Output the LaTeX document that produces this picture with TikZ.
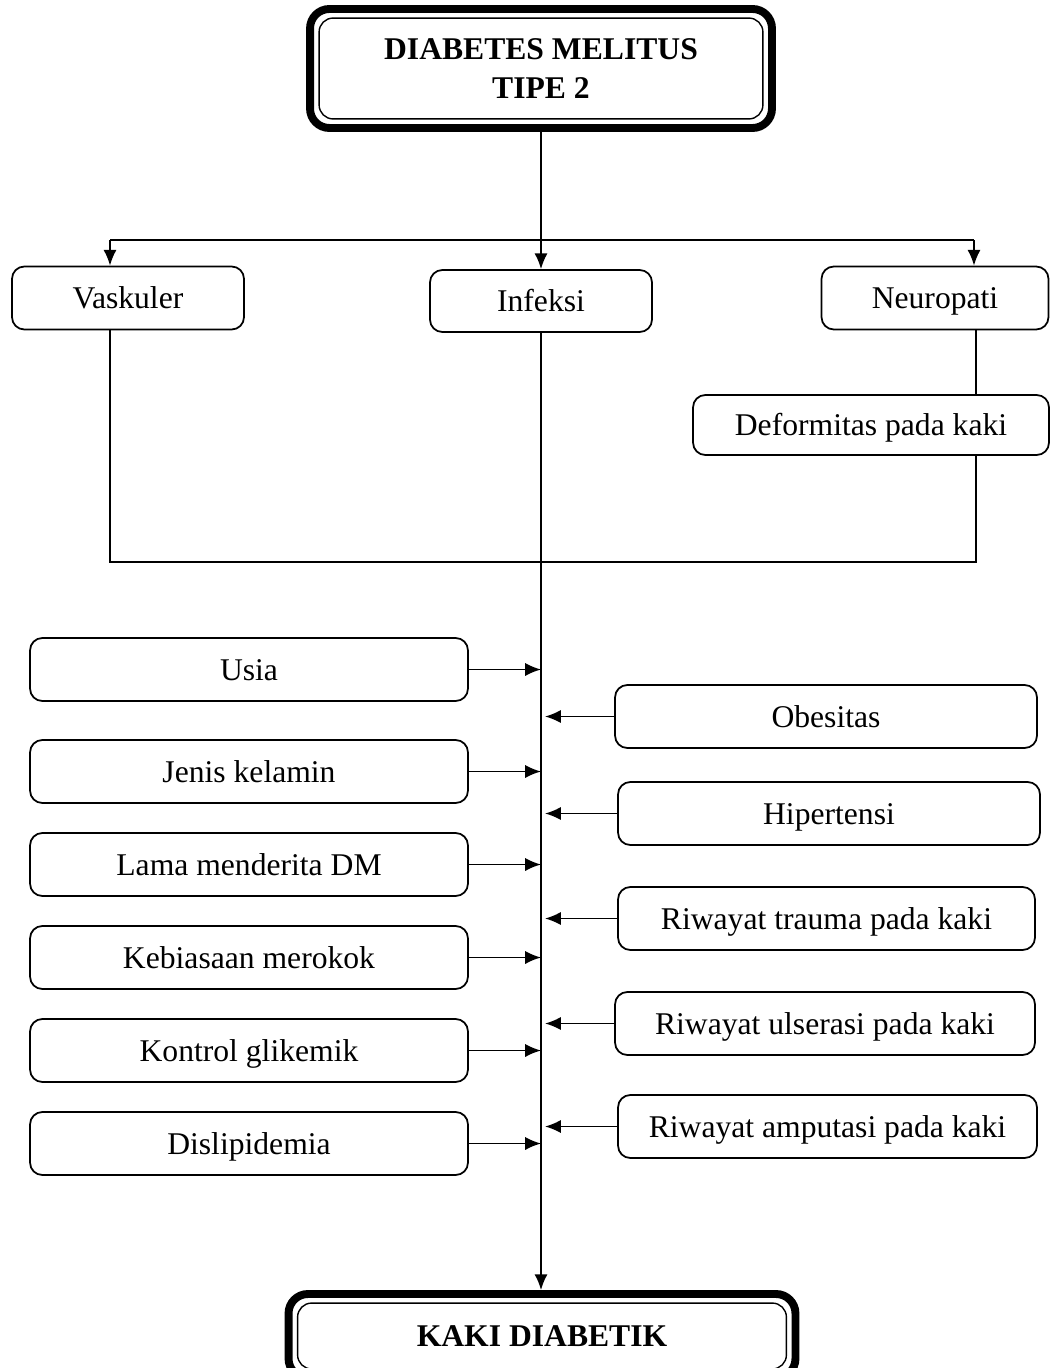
\documentclass[tikz,border=0pt]{standalone}
\usepackage{fontspec}
\setmainfont{Liberation Serif}
\usetikzlibrary{arrows.meta}

\begin{document}
\begin{tikzpicture}[x=0.02cm, y=-0.02cm, >={Latex[length=9pt,width=7.5pt]},
		font=\fontsize{18}{22}\selectfont,
		box/.style={draw, line width=1pt, rounded corners=7pt, minimum height=1.26cm, inner sep=0pt,
			text height=13pt, text depth=1pt},
		mainbox/.style={draw, line width=4.5pt, rounded corners=11pt, align=center, inner sep=0pt,
			font=\fontsize{18}{22}\selectfont\bfseries},
		innerline/.style={line width=0.8pt, rounded corners=8pt},
		link/.style={line width=1pt}]
		
		\useasboundingbox (0,0) rectangle (1050,1368);
		
		% Top box
		\node[mainbox, minimum width=9.24cm, minimum height=2.38cm] (dm) at (541,68.5) {DIABETES MELITUS\\TIPE 2};
		\draw[innerline] ([shift={(13,13)}]dm.north west) rectangle ([shift={(-13,-13)}]dm.south east);
		
		% Complications
		\node[box, minimum width=4.64cm] (vask) at (128,298) {Vaskuler};
		\node[box, minimum width=4.44cm, minimum height=1.24cm] (inf) at (541,301) {Infeksi};
		\node[box, minimum width=4.54cm] (neuro) at (935,298) {Neuropati};
		\node[box, minimum width=7.12cm, minimum height=1.2cm] (deform) at (871,425) {Deformitas pada kaki};
		
		% Branching from the top box
		\coordinate (split) at (541,240);
		\coordinate (vl) at (110,240);
		\coordinate (nr) at (974,240);
		\draw[link] (dm.south) -- (split);
		\draw[link] (vl) -- (nr);
		\draw[link,->] (vl) -- (vl |- vask.north);
		\draw[link,->] (split) -- (inf.north);
		\draw[link,->] (nr) -- (nr |- neuro.north);
		
		% Joining line
		\coordinate (vb) at (110,562);
		\coordinate (nb) at (976,562);
		\draw[link] (vask.south -| vb) -- (vb) -- (nb) -- (deform.south -| nb);
		\draw[link] (neuro.south -| nb) -- (deform.north -| nb);
		
		% Bottom box
		\node[mainbox, minimum width=10.14cm, minimum height=1.68cm] (kaki) at (542,1336) {KAKI DIABETIK};
		\draw[innerline] ([shift={(13,13)}]kaki.north west) rectangle ([shift={(-13,-13)}]kaki.south east);
		
		% Main line
		\draw[link,->] (inf.south) -- (inf.south |- kaki.north);
		
		% Factors on the left
		\foreach \name/\txt/\y in {usia/Usia/669.5, jenis/Jenis kelamin/771.5, lama/Lama menderita DM/864.5,
			rokok/Kebiasaan merokok/957.5, kontrol/Kontrol glikemik/1050.5, lipid/Dislipidemia/1143.5} {
			\node[box, minimum width=8.76cm] (\name) at (249,\y) {\txt};
			\draw[link,->] (\name.east) -- (\name.east -| inf.south);
		}
		
		% Factors on the right
		\foreach \name/\txt/\x/\y/\w in {obes/Obesitas/826/716.5/8.44, hiper/Hipertensi/829/813.5/8.44,
			trauma/Riwayat trauma pada kaki/826.5/918.5/8.34, ulser/Riwayat ulserasi pada kaki/825/1023.5/8.4,
			amput/Riwayat amputasi pada kaki/827.5/1126.5/8.38} {
			\node[box, minimum width=\w cm] (\name) at (\x,\y) {\txt};
			\draw[link,->] (\name.west) -- ([xshift=2.3pt]\name.west -| inf.south);
		}
		
	\end{tikzpicture}
\end{document}
